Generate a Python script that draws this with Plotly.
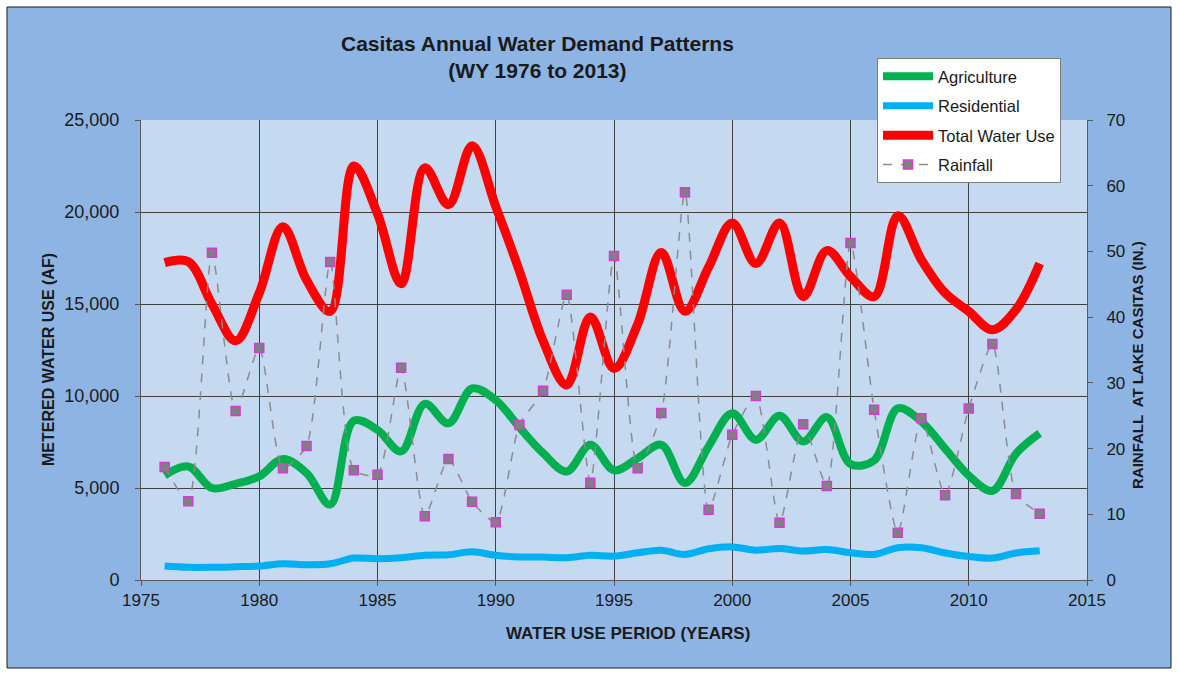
import plotly.graph_objects as go

years = list(range(1976, 2014))

total_water_use = [17250, 17300, 15000, 13000, 15600, 19200, 16300, 14600, 22500, 19900,
                   16100, 22400, 20400, 23600, 20300, 16800, 13000, 10600, 14300, 11500,
                   13900, 17800, 14600, 17000, 19400, 17200, 19400, 15400, 17900, 16500,
                   15400, 19800, 17400, 15600, 14600, 13600, 14700, 17200]

agriculture = [5690, 6170, 5000, 5230, 5630, 6570, 5810, 4100, 8660, 8160,
               6990, 9570, 8520, 10410, 9780, 8300, 6900, 5900, 7350, 5960,
               6620, 7350, 5270, 7260, 9060, 7620, 8920, 7530, 8850, 6300,
               6500, 9330, 8610, 7140, 5680, 4850, 6870, 7970]

residential = [760, 690, 690, 720, 760, 880, 830, 880, 1190, 1155,
               1210, 1340, 1370, 1530, 1340, 1250, 1245, 1210, 1340, 1300,
               1480, 1620, 1390, 1700, 1800, 1620, 1710, 1570, 1660, 1480,
               1390, 1750, 1750, 1470, 1280, 1190, 1470, 1590]

rainfall = [17.2, 12.0, 49.8, 25.7, 35.3, 17.0, 20.4, 48.4, 16.7, 16.0,
            32.3, 9.7, 18.4, 11.9, 8.8, 23.6, 28.8, 43.4, 14.8, 49.3,
            17.0, 25.4, 59.0, 10.7, 22.1, 28.0, 8.7, 23.7, 14.3, 51.3,
            25.9, 7.2, 24.6, 12.9, 26.1, 35.9, 13.1, 10.1]

x_ticks = [1975, 1980, 1985, 1990, 1995, 2000, 2005, 2010, 2015]
y_ticks = [0, 5000, 10000, 15000, 20000, 25000]
y2_ticks = [0, 10, 20, 30, 40, 50, 60, 70]

FONT = "Arial, Liberation Sans, sans-serif"
W, H = 1180, 673
L, R, T, B = 141, 93, 120, 93
PW, PH = W - L - R, H - T - B

def px_x(px):
    return (px - L) / PW

def px_y(py):
    return (H - B - py) / PH

fig = go.Figure()

fig.add_trace(go.Scatter(
    x=years, y=agriculture, name="Agriculture", mode="lines",
    line=dict(color="#00B050", width=8, shape="spline", smoothing=1),
    legendgroup="a"))
fig.add_trace(go.Scatter(
    x=years, y=residential, name="Residential", mode="lines",
    line=dict(color="#00B0F0", width=7, shape="spline", smoothing=1),
    legendgroup="b"))
fig.add_trace(go.Scatter(
    x=years, y=total_water_use, name="Total Water Use", mode="lines",
    line=dict(color="#FF0000", width=9, shape="spline", smoothing=1),
    legendgroup="c"))
fig.add_trace(go.Scatter(
    x=years, y=rainfall, name="Rainfall", mode="lines+markers", yaxis="y2",
    line=dict(color="#8C8C8C", width=1.5, dash="dash", shape="spline", smoothing=0.6),
    marker=dict(symbol="square", size=9, color="#808080",
                line=dict(color="#D43BD4", width=1.5)),
    legendgroup="d"))

fig.update_layout(
    width=W, height=H,
    margin=dict(l=L, r=R, t=T, b=B),
    paper_bgcolor="white",
    plot_bgcolor="rgba(0,0,0,0)",
    font=dict(family=FONT, color="#1A1A1A"),
    showlegend=True,
    legend=dict(
        x=px_x(877), y=px_y(58), xanchor="left", yanchor="top",
        bgcolor="white", bordercolor="#7F7F7F", borderwidth=1,
        font=dict(family=FONT, size=16.5, color="#1A1A1A"),
        tracegroupgap=5, traceorder="grouped", itemwidth=50,
    ),
    xaxis=dict(
        range=[1975, 2015], tickvals=x_ticks, ticktext=[str(v) for v in x_ticks],
        showgrid=True, gridcolor="#404040", gridwidth=1,
        showline=True, linecolor="#595959", linewidth=1,
        ticks="outside", ticklen=5, tickcolor="#595959",
        tickfont=dict(size=17, family=FONT, color="#1A1A1A"),
        zeroline=False,
    ),
    yaxis=dict(
        range=[0, 25000], tickvals=y_ticks, tickformat=",",
        showgrid=True, gridcolor="#404040", gridwidth=1,
        showline=True, linecolor="#595959", linewidth=1,
        ticks="outside", ticklen=5, tickcolor="#595959",
        tickfont=dict(size=18, family=FONT, color="#1A1A1A"),
        ticklabelstandoff=12,
        zeroline=False,
    ),
    yaxis2=dict(
        range=[0, 70], tickvals=y2_ticks, overlaying="y", side="right",
        showgrid=False, showline=True, linecolor="#595959", linewidth=1,
        ticks="outside", ticklen=5, tickcolor="#595959",
        tickfont=dict(size=17, family=FONT, color="#1A1A1A"),
        ticklabelstandoff=10,
        zeroline=False,
    ),
    shapes=[
        dict(type="rect", xref="paper", yref="paper",
             x0=px_x(7), x1=px_x(1171), y0=px_y(668), y1=px_y(7),
             fillcolor="#8DB4E2", line=dict(color="#1A1A1A", width=1), layer="below"),
        dict(type="rect", xref="x domain", yref="y domain",
             x0=0, x1=1, y0=0, y1=1,
             fillcolor="#C5D9F1", line=dict(width=0), layer="below"),
    ],
    annotations=[
        dict(text="<b>Casitas Annual Water Demand Patterns</b><br><b>(WY 1976 to 2013)</b>",
             xref="paper", yref="paper", x=px_x(537), y=px_y(57),
             xanchor="center", yanchor="middle", showarrow=False,
             font=dict(family=FONT, size=21, color="#1A1A1A")),
        dict(text="<b>METERED WATER USE (AF)</b>",
             xref="paper", yref="paper", x=px_x(48), y=px_y(360),
             xanchor="center", yanchor="middle", showarrow=False, textangle=-90,
             font=dict(family=FONT, size=16, color="#1A1A1A")),
        dict(text="<b>RAINFALL  AT LAKE CASITAS (IN.)</b>",
             xref="paper", yref="paper", x=px_x(1137), y=px_y(365),
             xanchor="center", yanchor="middle", showarrow=False, textangle=-90,
             font=dict(family=FONT, size=15, color="#1A1A1A")),
        dict(text="<b>WATER USE PERIOD (YEARS)</b>",
             xref="paper", yref="paper", x=px_x(628), y=px_y(633),
             xanchor="center", yanchor="middle", showarrow=False,
             font=dict(family=FONT, size=17, color="#1A1A1A")),
    ],
)

fig.write_html("out.html",
               config={"displayModeBar": False},
               post_script="document.body.style.margin='0px';document.body.style.padding='0px';")
